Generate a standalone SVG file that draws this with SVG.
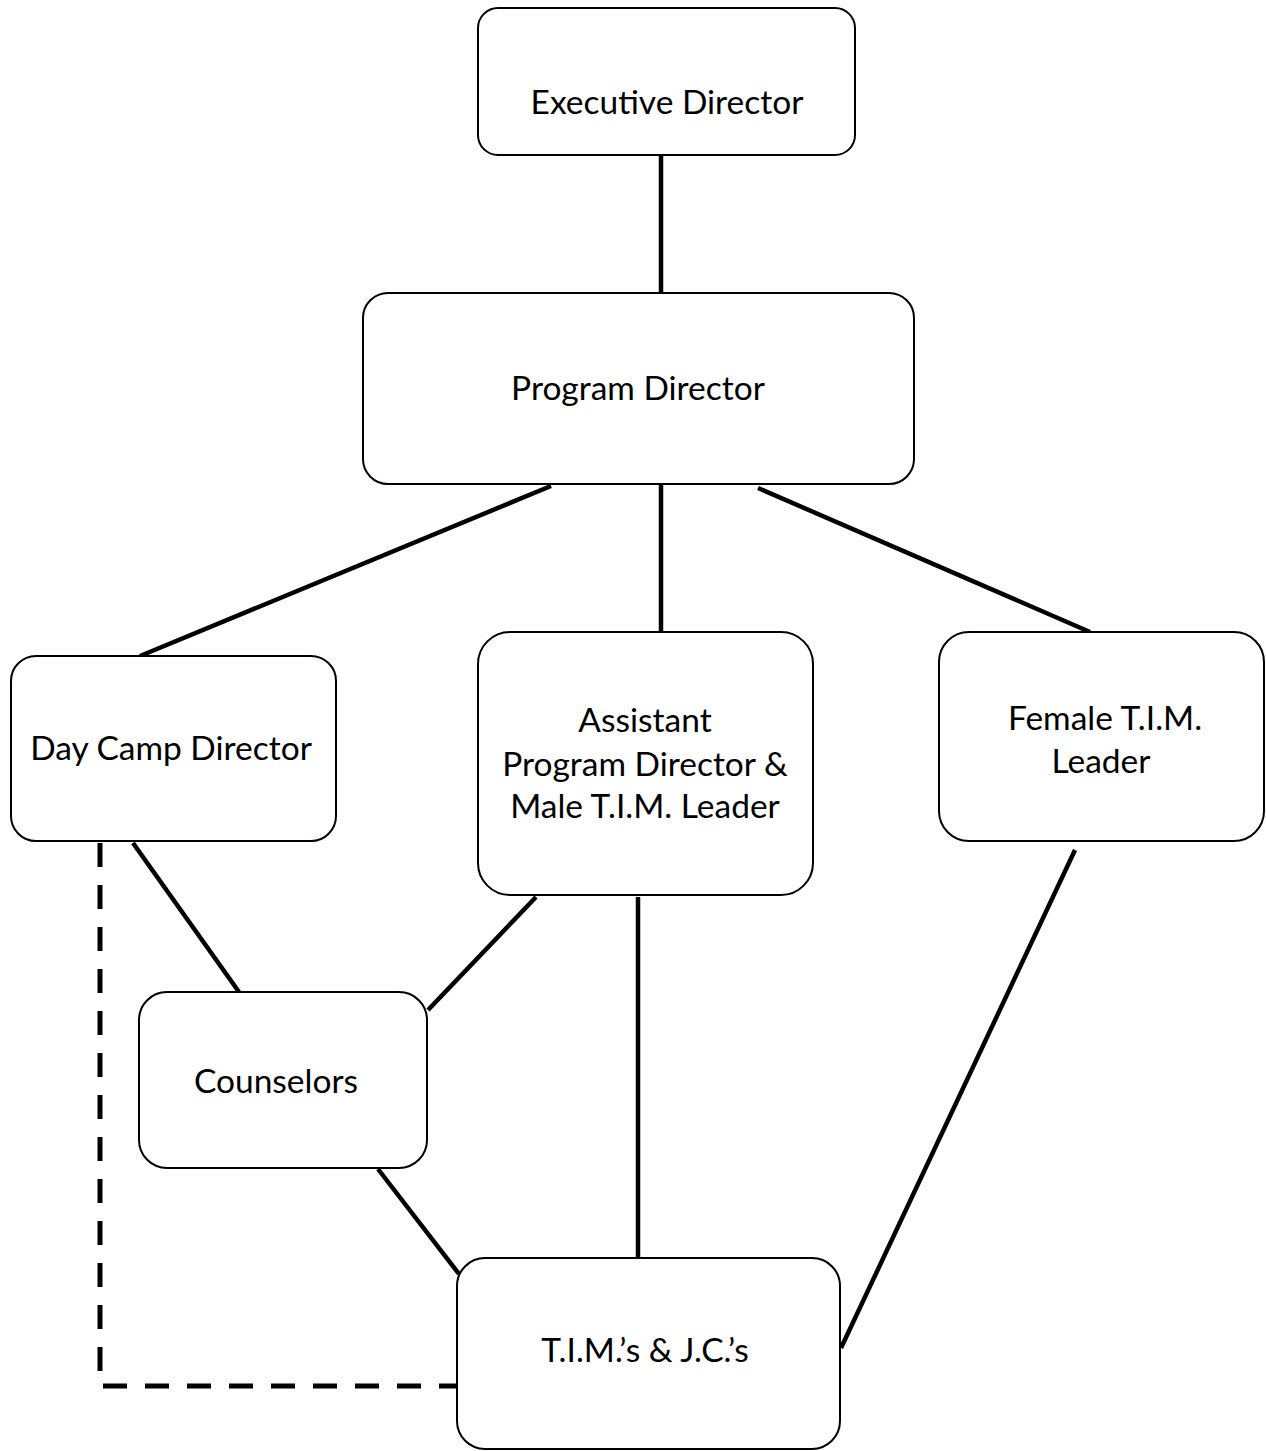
<svg xmlns="http://www.w3.org/2000/svg" width="1266" height="1451" viewBox="0 0 1266 1451">
<style>
.box{fill:#fff;stroke:#000;stroke-width:2}
.lbl{font-family:Lato,"Open Sans","Liberation Sans",sans-serif;font-size:33.5px;fill:#000;text-anchor:middle}
.con{stroke:#000;stroke-width:4.5;fill:none}
.dash{stroke:#000;stroke-width:5;fill:none;stroke-dasharray:24 18}
</style>
<rect width="1266" height="1451" fill="#fff"/>
<g id="connectors">
<line class="con" x1="661" y1="155" x2="661" y2="296"/>
<line class="con" x1="551" y1="486" x2="140" y2="656"/>
<line class="con" x1="661" y1="484" x2="661" y2="632"/>
<line class="con" x1="758" y1="488" x2="1090" y2="632"/>
<line class="con" x1="133" y1="843" x2="239" y2="992"/>
<line class="con" x1="536" y1="897" x2="428" y2="1010"/>
<line class="con" x1="638" y1="897" x2="638" y2="1258"/>
<line class="con" x1="1075" y1="850" x2="841" y2="1348"/>
<line class="con" x1="378" y1="1169" x2="459" y2="1274"/>
<path class="dash" d="M100,843 V1386 H459"/>
</g>
<g id="executive-director">
<rect class="box" x="478" y="8" width="377" height="147" rx="20"/>
<text class="lbl" x="667" y="114">Executive Director</text>
</g>
<g id="program-director">
<rect class="box" x="363" y="293" width="551" height="191" rx="25"/>
<text class="lbl" x="638" y="400">Program Director</text>
</g>
<g id="day-camp-director">
<rect class="box" x="11" y="656" width="325" height="185" rx="25"/>
<text class="lbl" x="171" y="760">Day Camp Director</text>
</g>
<g id="assistant-program-director">
<rect class="box" x="478" y="632" width="335" height="263" rx="32"/>
<text class="lbl" x="645" y="732">Assistant</text>
<text class="lbl" x="645" y="776">Program Director &amp;</text>
<text class="lbl" x="645" y="818">Male T.I.M. Leader</text>
</g>
<g id="female-tim-leader">
<rect class="box" x="939" y="632" width="325" height="209" rx="30"/>
<text class="lbl" x="1105" y="730">Female T.I.M.</text>
<text class="lbl" x="1101" y="773">Leader</text>
</g>
<g id="counselors">
<rect class="box" x="139" y="992" width="288" height="176" rx="28"/>
<text class="lbl" x="276" y="1093">Counselors</text>
</g>
<g id="tims-jcs">
<rect class="box" x="457" y="1258" width="383" height="191" rx="28"/>
<text class="lbl" x="645" y="1362">T.I.M.’s &amp; J.C.’s</text>
</g>
</svg>
